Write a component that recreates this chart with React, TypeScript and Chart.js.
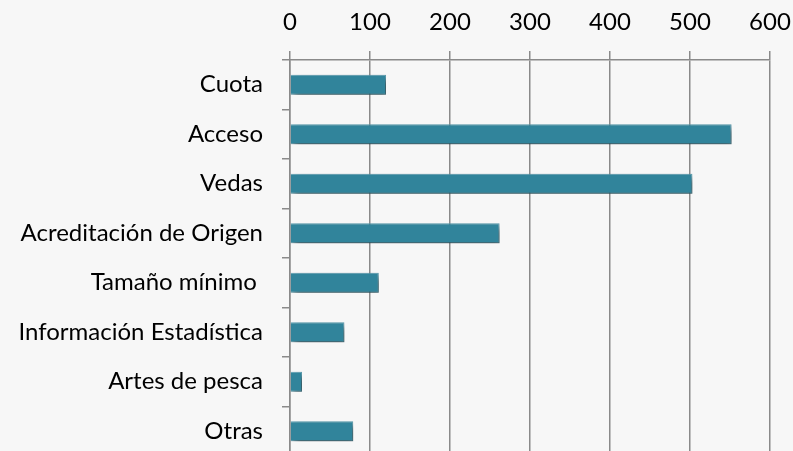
import React, { useEffect, useRef } from "react";
import { Chart, registerables } from "chart.js";

Chart.register(...registerables);

const categories = [
  "Cuota",
  "Acceso",
  "Vedas",
  "Acreditación de Origen",
  "Tamaño mínimo ",
  "Información Estadística",
  "Artes de pesca",
  "Otras",
];
const values = [120, 552, 503, 262, 111, 68, 15, 79];
const xMin = 0;
const xMax = 600;
const xStep = 100;

const FONT = "Lato, 'Open Sans', sans-serif";
const GRID = "#8a8a8a";

const shadowPlugin = {
  id: "barShadow",
  beforeDatasetDraw(chart: any) {
    const ctx = chart.ctx;
    ctx.save();
    ctx.shadowColor = "rgba(0,0,0,0.55)";
    ctx.shadowBlur = 7;
    ctx.shadowOffsetX = 3;
    ctx.shadowOffsetY = 4;
  },
  afterDatasetDraw(chart: any) {
    chart.ctx.restore();
  },
};

const bgPlugin = {
  id: "bg",
  beforeDraw(chart: any) {
    const ctx = chart.ctx;
    ctx.save();
    ctx.fillStyle = "#f7f7f7";
    ctx.fillRect(0, 0, chart.width, chart.height);
    ctx.restore();
  },
};

function zeroPad(scale: any) {
  scale.paddingTop = 0;
  scale.paddingBottom = 0;
  scale.paddingLeft = 0;
  scale.paddingRight = 0;
}

export default function App() {
  const ref = useRef<HTMLCanvasElement | null>(null);
  useEffect(() => {
    document.body.style.margin = "0";
    document.body.style.background = "#f7f7f7";
    const chart = new Chart(ref.current as HTMLCanvasElement, {
      type: "bar",
      data: {
        labels: categories,
        datasets: [
          {
            data: values,
            backgroundColor: "#31849b",
            borderColor: "#5fa3b6",
            borderWidth: 1,
            barPercentage: 0.404,
            categoryPercentage: 1,
          },
        ],
      },
      options: {
        indexAxis: "y",
        animation: false,
        responsive: false,
        maintainAspectRatio: false,
        layout: { padding: { right: 23, top: 0, bottom: 0, left: 0 } },
        plugins: {
          legend: { display: false },
          tooltip: { enabled: false },
        },
        scales: {
          x: {
            position: "top",
            min: xMin,
            max: xMax,
            ticks: {
              stepSize: xStep,
              color: "#000",
              font: { family: FONT, size: 24 },
              padding: 14,
            },
            grid: {
              color: GRID,
              lineWidth: 1.5,
              tickLength: 9,
              drawOnChartArea: true,
            },
            border: { display: true, color: GRID, width: 1.5 },
            afterFit(scale: any) {
              scale.height = 60;
              zeroPad(scale);
            },
          },
          y: {
            offset: true,
            ticks: {
              color: "#000",
              font: { family: FONT, size: 24 },
              padding: 19,
            },
            grid: {
              offset: true,
              drawOnChartArea: false,
              color: GRID,
              lineWidth: 1.5,
              tickLength: 8,
            },
            border: { display: true, color: GRID, width: 1.5 },
            afterFit(scale: any) {
              scale.width = 290;
              zeroPad(scale);
            },
          },
        },
      },
      plugins: [bgPlugin, shadowPlugin],
    });
    return () => chart.destroy();
  }, []);
  return (
    <div style={{ position: "fixed", left: 0, top: 0, width: 793, height: 456, overflow: "hidden" }}>
      <canvas ref={ref} width={793} height={456} style={{ display: "block" }} />
    </div>
  );
}
